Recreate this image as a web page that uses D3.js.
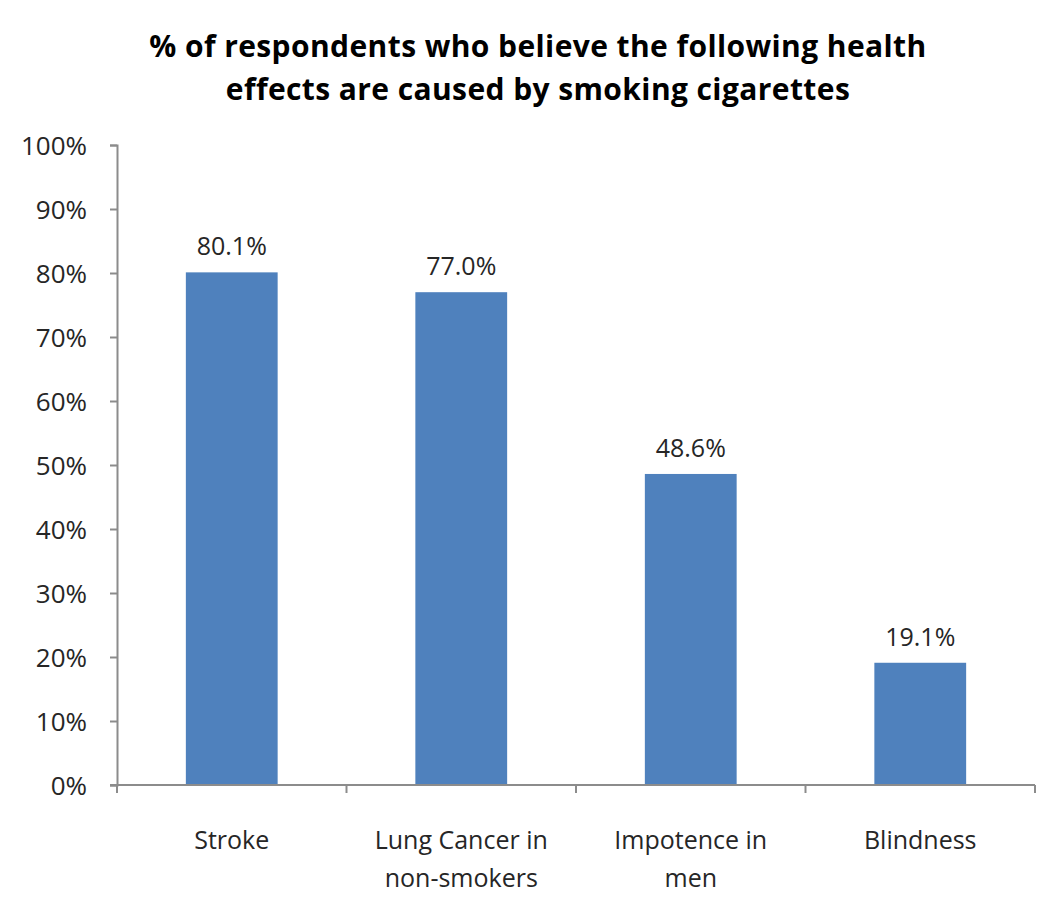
<!DOCTYPE html>
<html>
<head>
<meta charset="utf-8">
<script src="https://cdn.jsdelivr.net/npm/d3@7"></script>
<style>
  body { margin: 0; background: #fff; }
  svg text { font-family: 'Open Sans', 'Noto Sans', sans-serif; fill: #262626; }
</style>
</head>
<body>
<svg id="chart"></svg>
<script>
const titleLines = ['% of respondents who believe the following health', 'effects are caused by smoking cigarettes']
const categories = [['Stroke'], ['Lung Cancer in', 'non-smokers'], ['Impotence in', 'men'], ['Blindness']]
const values = [80.1, 77.0, 48.6, 19.1]
const yTicks = [0, 10, 20, 30, 40, 50, 60, 70, 80, 90, 100]

const width = 1050, height = 918
const margin = { top: 145, right: 15, bottom: 133, left: 117 }

const svg = d3.select('#chart')
  .attr('width', width)
  .attr('height', height)

// title
svg.append('g')
  .selectAll('text')
  .data(titleLines)
  .enter()
  .append('text')
  .attr('x', 538)
  .attr('y', (d, i) => 57 + i * 43)
  .attr('text-anchor', 'middle')
  .attr('font-size', 30)
  .attr('font-weight', 'bold')
  .attr('letter-spacing', 0.4)
  .style('fill', '#000')
  .text(d => d)

const x = d3.scaleBand()
  .domain(d3.range(categories.length))
  .range([margin.left, width - margin.right])
  .paddingInner(0.6)
  .paddingOuter(0.3)

const y = d3.scaleLinear()
  .domain([0, 100])
  .range([height - margin.bottom, margin.top])

const axisColor = '#8c8c8c'

// y axis
const yAxis = svg.append('g')
  .attr('transform', `translate(${margin.left},0)`)
  .call(d3.axisLeft(y).tickValues(yTicks).tickFormat(d => d + '%').tickSize(7).tickPadding(23))
yAxis.select('.domain').attr('stroke', axisColor).attr('stroke-width', 2)
yAxis.selectAll('.tick line').attr('stroke', axisColor).attr('stroke-width', 2)
yAxis.selectAll('.tick text')
  .attr('font-size', 26)
  .attr('font-family', null)
  .attr('dy', '0.36em')

// bars
svg.append('g')
  .selectAll('rect')
  .data(values)
  .enter()
  .append('rect')
  .attr('x', (d, i) => x(i))
  .attr('width', x.bandwidth())
  .attr('y', d => y(d))
  .attr('height', d => y(0) - y(d))
  .attr('fill', '#4f81bd')

// value labels
svg.append('g')
  .selectAll('text')
  .data(values)
  .enter()
  .append('text')
  .attr('x', (d, i) => x(i) + x.bandwidth() / 2)
  .attr('y', d => y(d) - 17)
  .attr('text-anchor', 'middle')
  .attr('font-size', 25)
  .text(d => d.toFixed(1) + '%')

// x axis line with boundary ticks
const step = x.step()
const bounds = d3.range(categories.length + 1).map(i => margin.left + i * step)
const xAxis = svg.append('g')
xAxis.append('line')
  .attr('x1', margin.left - 7)
  .attr('x2', width - margin.right)
  .attr('y1', y(0))
  .attr('y2', y(0))
  .attr('stroke', axisColor)
  .attr('stroke-width', 2)
xAxis.selectAll('.btick')
  .data(bounds)
  .enter()
  .append('line')
  .attr('x1', d => d)
  .attr('x2', d => d)
  .attr('y1', y(0))
  .attr('y2', y(0) + 8)
  .attr('stroke', axisColor)
  .attr('stroke-width', 2)

// category labels
const cat = svg.append('g')
  .selectAll('text')
  .data(categories)
  .enter()
  .append('text')
  .attr('text-anchor', 'middle')
  .attr('font-size', 25)
cat.selectAll('tspan')
  .data((d, i) => d.map(line => ({ line, i })))
  .enter()
  .append('tspan')
  .attr('x', d => x(d.i) + x.bandwidth() / 2)
  .attr('y', (d, j) => 849 + j * 38)
  .text(d => d.line)
</script>
</body>
</html>
